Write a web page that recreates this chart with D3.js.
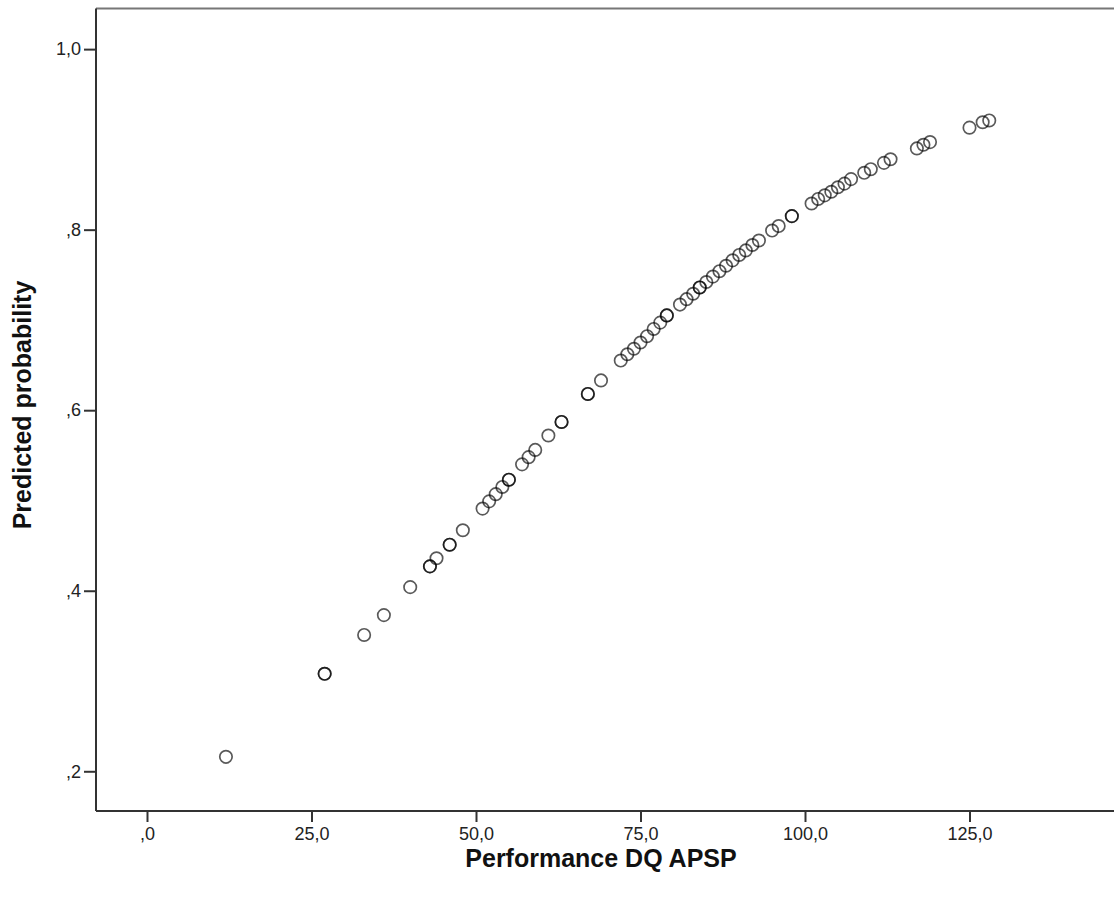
<!DOCTYPE html>
<html>
<head>
<meta charset="utf-8">
<script src="https://cdn.jsdelivr.net/npm/d3@7"></script>
<style>
  html, body { margin: 0; padding: 0; background: #fff; }
  svg { display: block; }
</style>
</head>
<body>
<svg id="chart" width="1114" height="897"></svg>
<script>
// Performance DQ APSP (x) and predicted probability (y)
const performance = [12, 27, 27, 33, 36, 40, 43, 43, 44, 46, 46, 48, 51, 52, 53, 54, 55, 55, 57, 58, 59, 61, 63, 63,
  67, 67, 69, 72, 73, 74, 75, 76, 77, 78, 79, 79, 81, 82, 83, 84, 84, 85, 86, 87, 88, 89, 90, 91, 92, 93, 95, 96,
  98, 98, 101, 102, 103, 104, 105, 106, 107, 109, 110, 112, 113, 117, 118, 119, 125, 127, 128];
const probability = [0.216, 0.308, 0.308, 0.351, 0.373, 0.404, 0.427, 0.427, 0.436, 0.451, 0.451, 0.467, 0.491, 0.499,
  0.507, 0.515, 0.523, 0.523, 0.540, 0.548, 0.556, 0.572, 0.587, 0.587, 0.618, 0.618, 0.633, 0.655, 0.662, 0.668,
  0.675, 0.682, 0.690, 0.697, 0.705, 0.705, 0.717, 0.723, 0.729, 0.736, 0.736, 0.742, 0.748, 0.754, 0.760, 0.766,
  0.772, 0.777, 0.783, 0.788, 0.799, 0.804, 0.815, 0.815, 0.829, 0.834, 0.838, 0.842, 0.847, 0.851, 0.856, 0.863,
  0.867, 0.874, 0.878, 0.890, 0.894, 0.897, 0.913, 0.919, 0.921];
const xTicks = [0, 25, 50, 75, 100, 125];
const yTicks = [0.2, 0.4, 0.6, 0.8, 1.0];
const xTitle = "Performance DQ APSP";
const yTitle = "Predicted probability";

const svg = d3.select("#chart");
const mLeft = 96, mTop = 8.5, mBottom = 811, mRight = 1114;

const x = d3.scaleLinear().domain([-7.75, 146.96]).range([mLeft, mRight]);
const y = d3.scaleLinear().domain([0.156, 1.045]).range([mBottom, mTop]);

const fmt = v => {
  let s = v.toFixed(1);
  if (s.startsWith("0.")) s = s.slice(1);
  return s.replace(".", ",");
};

// top frame line
svg.append("line")
  .attr("x1", mLeft).attr("x2", mRight).attr("y1", mTop).attr("y2", mTop)
  .attr("stroke", "#777").attr("stroke-width", 2);

const xAxis = svg.append("g")
  .attr("transform", `translate(0,${mBottom})`)
  .call(d3.axisBottom(x).tickValues(xTicks).tickFormat(fmt).tickSize(11).tickSizeOuter(0).tickPadding(5));
const yAxis = svg.append("g")
  .attr("transform", `translate(${mLeft},0)`)
  .call(d3.axisLeft(y).tickValues(yTicks).tickFormat(fmt).tickSize(12).tickSizeOuter(0).tickPadding(3));

[xAxis, yAxis].forEach(g => {
  g.select(".domain").attr("stroke", "#333").attr("stroke-width", 2);
  g.selectAll(".tick line").attr("stroke", "#333").attr("stroke-width", 2);
  g.selectAll(".tick text")
    .attr("fill", "#222")
    .style("font-family", "'Liberation Sans', Arial, sans-serif")
    .style("font-size", "18px");
});
xAxis.select(".domain").attr("d", `M${mLeft},0H${mRight}`);
yAxis.select(".domain").attr("d", `M0,${mTop}V${mBottom}`);

// points
svg.append("g").selectAll("circle")
  .data(performance.map((v, i) => [v, probability[i]]))
  .join("circle")
  .attr("cx", d => x(d[0]))
  .attr("cy", d => y(d[1]))
  .attr("r", 6.2)
  .attr("fill", "none")
  .attr("stroke", "#000")
  .attr("stroke-opacity", 0.65)
  .attr("stroke-width", 1.7);

// axis titles
svg.append("text")
  .attr("x", 601).attr("y", 867)
  .attr("text-anchor", "middle")
  .style("font-family", "'Liberation Sans', Arial, sans-serif")
  .style("font-weight", "bold")
  .style("font-size", "25px")
  .attr("fill", "#111")
  .text(xTitle);

svg.append("text")
  .attr("transform", `translate(31,405) rotate(-90)`)
  .attr("text-anchor", "middle")
  .style("font-family", "'Liberation Sans', Arial, sans-serif")
  .style("font-weight", "bold")
  .style("font-size", "25px")
  .attr("fill", "#111")
  .text(yTitle);
</script>
</body>
</html>
